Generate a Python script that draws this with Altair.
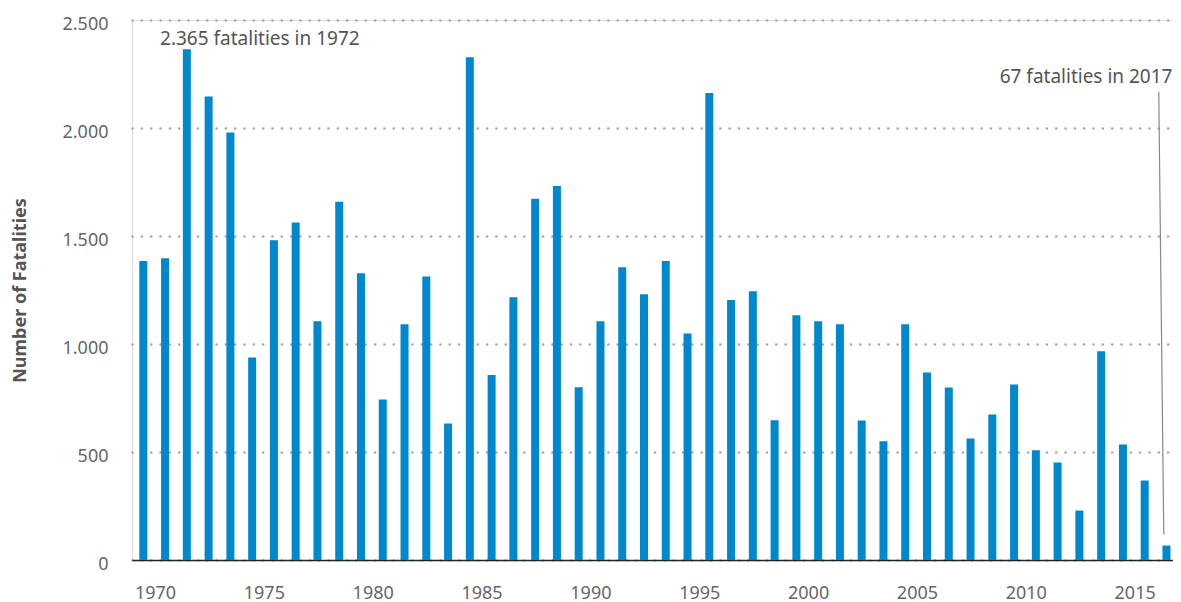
import altair as alt
import pandas as pd

years = list(range(1970, 2018))
fatalities = [1384, 1397, 2365, 2146, 1979, 938, 1480, 1562, 1105, 1659, 1327, 743,
              1091, 1313, 632, 2327, 856, 1216, 1673, 1731, 800, 1105, 1355, 1230,
              1384, 1049, 2162, 1204, 1244, 647, 1133, 1105, 1091, 646, 550, 1091,
              868, 799, 562, 674, 813, 508, 451, 229, 966, 535, 368, 67]
x_tick_years = [1970, 1975, 1980, 1985, 1990, 1995, 2000, 2005, 2010, 2015]
y_ticks = [0, 500, 1000, 1500, 2000, 2500]

ann1_year = [1972]
ann1_value = [2365]
ann1_text = ["2.365 fatalities in 1972"]
ann2_year = [2017]
ann2_value = [67]
ann2_text = ["67 fatalities in 2017"]

FONT = "Noto Sans"
BAR = "#0088CE"

df = pd.DataFrame({"year": years, "value": fatalities})
a1 = pd.DataFrame({"year": ann1_year, "value": ann1_value, "text": ann1_text})
a2 = pd.DataFrame({"year": ann2_year, "value": ann2_value, "text": ann2_text})

xscale = alt.Scale(domain=[1969.481, 2017.300], nice=False, zero=False, padding=0)
yscale = alt.Scale(domain=[0, 2500], nice=False)

bars = alt.Chart(df).mark_rule(strokeWidth=8, strokeCap="butt", color=BAR).encode(
    x=alt.X("year:Q", scale=xscale,
            axis=alt.Axis(values=x_tick_years, format="d", title=None, grid=False,
                          ticks=False, domain=True, domainColor="#222", domainWidth=1.6,
                          labelOffset=11.7, labelPadding=24, labelFontSize=18,
                          labelColor="#666", labelFont=FONT, labelFlush=False)),
    y=alt.Y("value:Q", scale=yscale,
            axis=alt.Axis(values=y_ticks, title="Number of Fatalities",
                          labelExpr="replace(format(datum.value, ','), ',', '.')",
                          grid=True, gridColor="#aaaaaa", gridWidth=2.6,
                          gridDash=[0.1, 9.23], gridCap="round",
                          ticks=False, domain=False, labelPadding=24,
                          labelFontSize=18, labelColor="#666", labelFont=FONT,
                          labelBaseline="middle", labelOffset=4,
                          titleFont=FONT, titleFontSize=18, titleFontWeight="bold",
                          titleColor="#555", titlePadding=32)),
    y2=alt.datum(0),
)

t1 = alt.Chart(a1).mark_text(align="left", baseline="alphabetic", dx=-26.8, dy=-4.5,
                             fontSize=19, font=FONT, color="#555").encode(
    x=alt.X("year:Q", scale=xscale), y=alt.Y("value:Q", scale=yscale), text="text:N")

t2 = alt.Chart(a2).mark_text(align="right", baseline="alphabetic", dx=6,
                             fontSize=19, font=FONT, color="#555").encode(
    x=alt.X("year:Q", scale=xscale), y=alt.value(62.7), text="text:N")

leader = alt.Chart(a2).mark_rule(color="#888", strokeWidth=1.2, xOffset=-2.7,
                                 x2Offset=-7.7, yOffset=-11).encode(
    x=alt.X("year:Q", scale=xscale), x2="year:Q",
    y=alt.Y("value:Q", scale=yscale), y2=alt.value(72))

chart = alt.layer(bars, leader, t1, t2).properties(
    width=1041, height=540,
    padding={"left": 124, "top": 12, "right": 0, "bottom": 42},
    autosize=alt.AutoSizeParams(type="none"),
).configure_view(stroke=None).configure(font=FONT)

chart.save("out.html", embed_options={"renderer": "svg", "actions": False})
